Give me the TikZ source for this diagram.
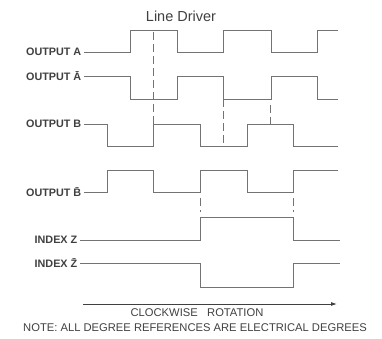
\documentclass[tikz,border=0pt]{standalone}
\usepackage{fontspec}
\setmainfont{Liberation Sans}
\usetikzlibrary{arrows.meta,positioning}

\begin{document}
\begin{tikzpicture}[
  x=1pt,y=-1pt,
  wave/.style={draw=black!55,line width=0.9pt},
  edge mark/.style={draw=black!55,line width=0.9pt,dash pattern=on 8pt off 4pt},
  sig/.style={anchor=east,inner sep=2.5pt,text=black!75,font=\fontsize{10.8}{12}\selectfont\bfseries},
  note/.style={text=black!75,inner sep=1pt,font=\fontsize{11.2}{12}\selectfont}
]
\useasboundingbox (0,0) rectangle (382,339);

% levels (high / low)
\def\Ahi{30}  \def\Alo{52}
\def\Nhi{76}  \def\Nlo{99}
\def\Bhi{124} \def\Blo{146}
\def\Mhi{170} \def\Mlo{192}
\def\Zhi{217} \def\Zlo{240}
\def\Whi{263} \def\Wlo{287}
\def\tend{338}

\node[font=\fontsize{14.5}{16}\selectfont,text=black!75] (title) at (181,16) {Line Driver};

\node[sig] (lblA) at (84,\Alo) {OUTPUT A};
\node[sig] (lblN) at (84,\Nhi) {OUTPUT \=A};
\node[sig] (lblB) at (84,\Bhi) {OUTPUT B};
\node[sig] (lblM) at (84,\Mlo) {OUTPUT \=B};
\node[sig] (lblZ) at (80,\Zlo) {INDEX Z};
\node[sig] (lblW) at (80,\Whi) {INDEX \=Z};

\draw[wave] (lblA.east) -| (130,\Ahi) -| (177,\Alo) -| (223,\Ahi) -| (271,\Alo) -| (317,\Ahi) -- (\tend,\Ahi);
\draw[wave] (lblN.east) -| (130,\Nlo) -| (177,\Nhi) -| (223,\Nlo) -| (271,\Nhi) -| (317,\Nlo) -- (\tend,\Nlo);
\draw[wave] (lblB.east) -| (107,\Blo) -| (153,\Bhi) -| (200,\Blo) -| (247,\Bhi) -| (293,\Blo) -- (\tend,\Blo);
\draw[wave] (lblM.east) -| (107,\Mhi) -| (153,\Mlo) -| (200,\Mhi) -| (247,\Mlo) -| (293,\Mhi) -- (\tend,\Mhi);
\draw[wave] (lblZ.east) -| (200,\Zhi) -| (293,\Zlo) -- (340,\Zlo);
\draw[wave] (lblW.east) -| (200,\Wlo) -| (293,\Whi) -- (340,\Whi);

\draw[edge mark] (153,32) -- (153,\Bhi);
\draw[edge mark] (223,\Nlo) -- (223,\Blo);
\draw[edge mark] (270,105) -- (270,\Bhi);
\draw[edge mark] (200,198) -- (200,212);
\draw[edge mark] (293,198) -- (293,212);

\coordinate (rotL) at (83,304);
\coordinate (rotR) at (337,304);
\draw[black!75,line width=0.9pt,-{Latex[length=6pt,width=4pt]}] (rotL) -- (rotR);
\node[note] (rot) at (197,313) {CLOCKWISE\ \ \ ROTATION};
\node[note] (ref) at (195,328) {NOTE: ALL DEGREE REFERENCES ARE ELECTRICAL DEGREES};

\end{tikzpicture}
\end{document}
